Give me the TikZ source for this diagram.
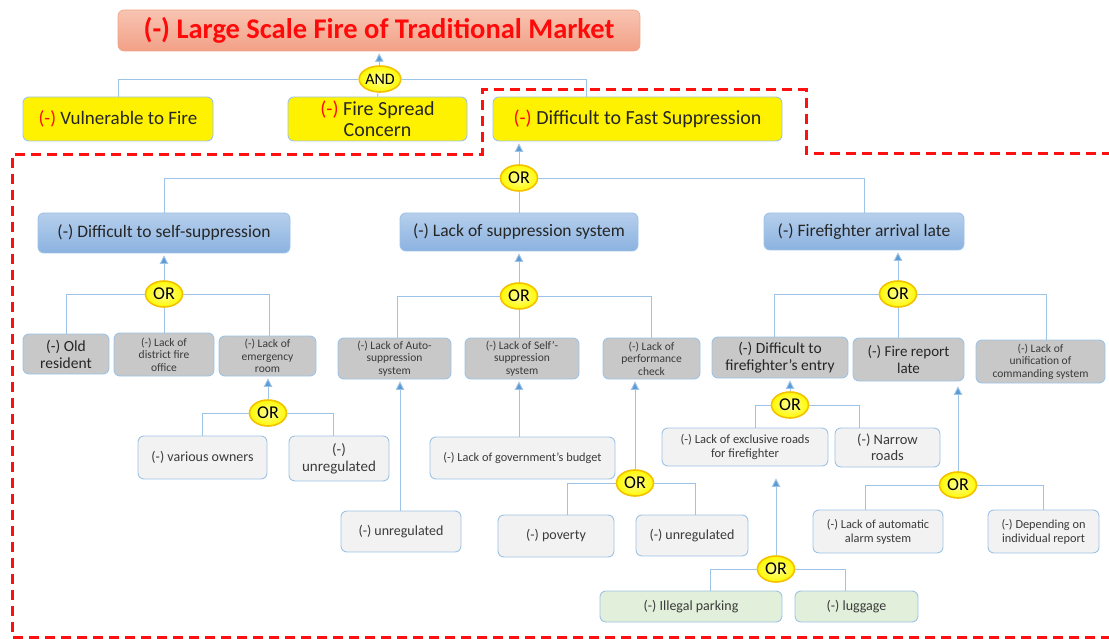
\documentclass[tikz,border=0pt]{standalone}
\usepackage{fontspec}
\setmainfont{Carlito}
\usetikzlibrary{arrows.meta,backgrounds,shapes.geometric}

\definecolor{wire}{HTML}{9DC3E6}
\definecolor{tip}{HTML}{5B9BD5}
\definecolor{edge}{HTML}{9DC3E6}
\definecolor{ink}{HTML}{262626}
\definecolor{inksoft}{HTML}{3A3A3A}
\definecolor{minus}{HTML}{FF0A0A}
\definecolor{grayfill}{HTML}{C8C8C8}
\definecolor{lightfill}{HTML}{F2F2F2}
\definecolor{greenfill}{HTML}{E2EFDA}
\definecolor{gatering}{HTML}{F2C200}
\definecolor{frame}{HTML}{FF1010}
\definecolor{salmontop}{HTML}{F8C4B2}
\definecolor{salmonbot}{HTML}{F2A086}
\definecolor{salmonedge}{HTML}{F0A486}
\definecolor{bluetop}{HTML}{B6CFEC}
\definecolor{bluebot}{HTML}{8BB2E0}

\newcommand\fsz[2]{\fontsize{#1}{#2}\selectfont}
\newcommand\minusmark{\textcolor{minus}{(-)}}

\begin{document}
\begin{tikzpicture}[x=1pt,y=-1pt,
  every node/.style={inner sep=0pt, align=center},
  base/.style={rounded corners=6pt, draw=edge, line width=0.9pt, text=ink},
  topbox/.style={base, draw=salmonedge, line width=0.6pt, top color=salmontop, bottom color=salmonbot,
                 font=\bfseries\fsz{28.5}{30}, text=minus},
  yellowbox/.style={base, fill=yellow, font=\fsz{20}{21}},
  bluebox/.style={base, top color=bluetop, bottom color=bluebot, font=\fsz{17.5}{20}},
  graybox/.style={base, fill=grayfill, font=\fsz{11.5}{12.5}, text=inksoft},
  graybig/.style={graybox, font=\fsz{15.5}{17}, text=ink},
  lightbox/.style={base, fill=lightfill, font=\fsz{14}{16}, text=inksoft},
  greenbox/.style={base, fill=greenfill, font=\fsz{14}{16}, text=inksoft},
  gate/.style={ellipse, inner sep=0pt, minimum width=37, minimum height=26,
               draw=gatering, line width=1.6pt, inner color=yellow!40, outer color=yellow!95!orange,
               font=\fsz{18}{19}, text=black},
  wireline/.style={draw=wire, line width=0.9pt},
  uparrow/.style={wireline, -{Triangle[length=8.5pt,width=8.5pt,fill=tip]}, shorten >=2pt},
  dashframe/.style={draw=frame, line width=3pt, dash pattern=on 10pt off 6pt}
]
\useasboundingbox (0,0) rectangle (1109,639);

% red dashed boundary of the suppression branch
\draw[dashframe] (1112,154) -- (806,154) -- (806,90) -- (482,90) -- (482,155)
  -- (12,155) -- (12,637) -- (1112,637);

% ---------- top event ----------
\node[topbox, minimum width=522, minimum height=41] (top) at (379,30.5) {(-) Large Scale Fire of Traditional Market};
\node[gate, minimum width=38, font=\fsz{16}{17}] (and) at (380,79) {AND};

\node[yellowbox, minimum width=190, minimum height=44, font=\fsz{19}{21}] (vul) at (118,119) {\minusmark{} Vulnerable to Fire};
\node[yellowbox, minimum width=179, minimum height=44] (spread) at (377.5,119) {\minusmark{} Fire Spread\\Concern};
\node[yellowbox, minimum width=289, minimum height=44] (dfs) at (637.5,119) {\minusmark{} Difficult to Fast Suppression};

% ---------- second level ----------
\node[gate] (g1) at (519,178) {OR};
\node[bluebox, minimum width=252, minimum height=40] (self) at (164,233) {(-) Difficult to self-suppression};
\node[bluebox, minimum width=238, minimum height=38] (lacksys) at (519,232) {(-) Lack of suppression system};
\node[bluebox, minimum width=200, minimum height=37] (ffl) at (864,231.5) {(-) Firefighter arrival late};

% ---------- self-suppression branch ----------
\node[gate] (g2) at (164,294) {OR};
\node[graybig, minimum width=86, minimum height=40] (old) at (66,354) {(-) Old\\resident};
\node[graybox, minimum width=100, minimum height=43] (district) at (164,354.5) {(-) Lack of\\district fire\\office};
\node[graybox, minimum width=97, minimum height=40] (emerg) at (267.5,356) {(-) Lack of\\emergency\\room};
\node[gate] (g3) at (268,413) {OR};
\node[lightbox, minimum width=129, minimum height=43] (various) at (202.5,457.5) {(-) various owners};
\node[lightbox, minimum width=100, minimum height=45, font=\fsz{15}{17}] (unregA) at (339,458.5) {(-)\\unregulated};

% ---------- suppression system branch ----------
\node[gate] (g4) at (519,296) {OR};
\node[graybox, minimum width=113, minimum height=41] (auto) at (394.5,358.5) {(-) Lack of Auto-\\suppression\\system};
\node[graybox, minimum width=114, minimum height=41] (selfsys) at (522,358.5) {(-) Lack of Self'-\\suppression\\system};
\node[graybox, minimum width=97, minimum height=41] (perf) at (651.5,358.5) {(-) Lack of\\performance\\check};
\node[lightbox, minimum width=185, minimum height=42, font=\fsz{12.3}{14}] (budget) at (522.5,458) {(-) Lack of government's budget};
\node[lightbox, minimum width=120, minimum height=41] (unregB) at (401,531.5) {(-) unregulated};
\node[gate] (g5) at (635,483) {OR};
\node[lightbox, minimum width=116, minimum height=42] (poverty) at (556,536) {(-) poverty};
\node[lightbox, minimum width=112, minimum height=41] (unregC) at (692,535.5) {(-) unregulated};

% ---------- firefighter arrival branch ----------
\node[gate] (g6) at (898,294) {OR};
\node[graybig, minimum width=136, minimum height=41] (entry) at (780,357.5) {(-) Difficult to\\firefighter's entry};
\node[graybig, minimum width=111, minimum height=43, font=\fsz{15}{16.5}] (report) at (908.5,359.5) {(-) Fire report\\late};
\node[graybox, minimum width=129, minimum height=43] (unif) at (1040.5,361.5) {(-) Lack of\\unification of\\commanding system};
\node[gate] (g7) at (790,405) {OR};
\node[lightbox, minimum width=166, minimum height=38, font=\fsz{12.5}{14}] (excl) at (745,447) {(-) Lack of exclusive roads\\for firefighter};
\node[lightbox, minimum width=105, minimum height=39, font=\fsz{14.5}{16}] (narrow) at (887.5,447.5) {(-) Narrow\\roads};
\node[gate] (g8) at (776,569) {OR};
\node[greenbox, minimum width=182, minimum height=31] (illegal) at (691,606.5) {(-) Illegal parking};
\node[greenbox, minimum width=123, minimum height=31] (luggage) at (856.5,606.5) {(-) luggage};
\node[gate] (g9) at (958,485) {OR};
\node[lightbox, minimum width=130, minimum height=43, font=\fsz{12.3}{14}] (alarm) at (878,531.5) {(-) Lack of automatic\\alarm system};
\node[lightbox, minimum width=111, minimum height=43, font=\fsz{12.3}{14}] (depend) at (1043.5,531.5) {(-) Depending on\\individual report};

% ---------- connectors ----------
\begin{pgfonlayer}{background}
  % top AND gate
  \draw[uparrow] (and) -- (top.south);
  \draw[wireline] (vul.north) |- (and.west);
  \draw[wireline] (and.east) -| ([xshift=-51.5pt]dfs.north);
  \draw[wireline] (and) -- (spread.north);
  % first OR gate
  \draw[uparrow] (g1) -- (g1 |- dfs.south);
  \draw[wireline] (self.north) |- (g1.west);
  \draw[wireline] (g1.east) -| (ffl.north);
  \draw[wireline] (g1) -- (lacksys.north);
  % self-suppression
  \draw[uparrow] (g2) -- (g2 |- self.south);
  \draw[wireline] (old.north) |- (g2.west);
  \draw[wireline] (g2.east) -| ([xshift=1.5pt]emerg.north);
  \draw[wireline] (g2) -- (g2 |- district.north);
  \draw[uparrow] (g3) -- (g3 |- emerg.south);
  \draw[wireline] (various.north) |- (g3.west);
  \draw[wireline] (g3.east) -| ([xshift=-6pt]unregA.north);
  % suppression system
  \draw[uparrow] (g4) -- (g4 |- lacksys.south);
  \draw[wireline] ([xshift=2.5pt]auto.north) |- (g4.west);
  \draw[wireline] (g4.east) -| (perf.north);
  \draw[wireline] (g4) -- (g4 |- selfsys.north);
  \draw[uparrow] ([xshift=-1pt]unregB.north) -- ([xshift=-1pt]unregB.north |- auto.south);
  \draw[uparrow] ([xshift=-3.5pt]budget.north) -- ([xshift=-3.5pt]budget.north |- selfsys.south);
  \draw[uparrow] (g5) -- (g5 |- perf.south);
  \draw[wireline] ([xshift=11pt]poverty.north) |- (g5.west);
  \draw[wireline] (g5.east) -| ([xshift=3pt]unregC.north);
  % firefighter arrival
  \draw[uparrow] (g6) -- (g6 |- ffl.south);
  \draw[wireline] ([xshift=-6pt]entry.north) |- (g6.west);
  \draw[wireline] (g6.east) -| ([xshift=5.5pt]unif.north);
  \draw[wireline] (g6) -- (g6 |- report.north);
  \draw[uparrow] (g7) -- (g7 |- entry.south);
  \draw[wireline] ([xshift=10pt]excl.north) |- (g7.west);
  \draw[wireline] (g7.east) -| ([xshift=-28.5pt]narrow.north);
  \draw[uparrow, shorten >=12pt] (g8) -- (g8 |- excl.south);
  \draw[wireline] ([xshift=19pt]illegal.north) |- (g8.west);
  \draw[wireline] (g8.east) -| ([xshift=-11.5pt]luggage.north);
  \draw[uparrow, shorten >=5pt] (g9) -- (g9 |- report.south);
  \draw[wireline] ([xshift=-13pt]alarm.north) |- (g9.west);
  \draw[wireline] (g9.east) -| (depend.north);
\end{pgfonlayer}
\end{tikzpicture}
\end{document}
